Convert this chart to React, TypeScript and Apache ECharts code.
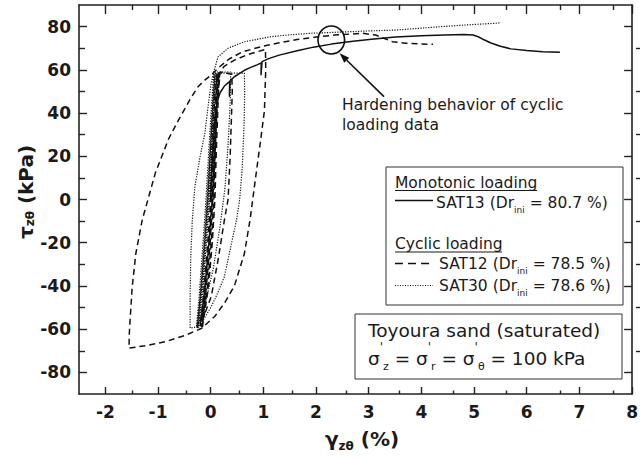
import React, { useEffect, useRef } from "react";
import * as echarts from "echarts";

// Axis ticks
const xMajorTicks = [-2, -1, 0, 1, 2, 3, 4, 5, 6, 7, 8];
const xMinorTicks = [-1.5, -0.5, 0.5, 1.5, 2.5, 3.5, 4.5, 5.5, 6.5, 7.5];
const yMajorTicks = [-80, -60, -40, -20, 0, 20, 40, 60, 80];
const yMinorTicks = [-70, -50, -30, -10, 10, 30, 50, 70];

// SAT13 – monotonic loading (gamma %, tau kPa)
const sat13: [number, number][] = [
  [0, 0], [0.02, 12], [0.05, 26], [0.08, 37], [0.12, 45], [0.18, 49.5], [0.26, 52.5],
  [0.34, 54.2], [0.36, 54.5], [0.355, 47.5], [0.37, 55], [0.45, 56.8], [0.55, 58.4],
  [0.64, 59.8], [0.75, 61], [0.88, 62.3], [0.96, 63.2], [0.955, 57.5], [0.975, 63.8],
  [1.1, 65.2], [1.3, 66.8], [1.64, 68.8], [1.95, 70.5], [2.29, 71.9], [2.7, 73.2],
  [3.1, 74.3], [3.51, 75.2], [4.0, 75.8], [4.44, 76.1], [4.8, 76.3], [4.98, 76.1],
  [5.08, 75.3], [5.19, 73.9], [5.32, 72.4], [5.5, 70.9], [5.7, 69.7], [6.0, 68.9],
  [6.3, 68.4], [6.63, 68.1],
];

// SAT12 – cyclic loading
const sat12: [number, number][] = [
  [0, 0], [0.03, 25], [0.07, 45], [0.12, 58],
  [0.1, 45], [0.07, 25], [0.04, 0], [-0.01, -20], [-0.08, -40], [-0.2, -58],
  [-0.14, -45], [-0.07, -25], [0.0, 0], [0.05, 25], [0.09, 45], [0.14, 58.5],
  [0.12, 45], [0.09, 25], [0.06, 0], [0.01, -20], [-0.06, -40], [-0.18, -59],
  [-0.12, -45], [-0.05, -25], [0.02, 0], [0.07, 25], [0.11, 45], [0.16, 59],
  [0.14, 45], [0.11, 25], [0.08, 0], [0.03, -20], [-0.04, -40], [-0.16, -59.5],
  [-0.1, -45], [-0.03, -25], [0.04, 0], [0.09, 25], [0.13, 45], [0.18, 59],
  [0.28, 58.5], [0.4, 58],
  [0.41, 50], [0.39, 35], [0.37, 20], [0.33, 0], [0.26, -9.5], [0.14, -28], [0.01, -45], [-0.2, -58.5],
  [-0.13, -45], [-0.05, -25], [0.03, 0], [0.08, 25], [0.12, 45], [0.17, 58],
  [0.25, 61.5], [0.45, 64.5], [0.7, 67], [0.9, 68.5], [1.04, 69.5],
  [1.045, 60], [1.02, 41], [0.94, 26], [0.83, 6], [0.75, -9], [0.64, -25], [0.45, -40],
  [0.26, -48], [0.08, -54], [-0.17, -59.6], [-0.5, -63], [-0.86, -65.8], [-1.2, -67.5], [-1.55, -68.8],
  [-1.545, -62], [-1.53, -55.8], [-1.49, -40.5], [-1.42, -24.8], [-1.3, -9.5], [-1.05, 12.3],
  [-0.8, 28], [-0.61, 36.8], [-0.4, 46], [-0.24, 52.2], [-0.1, 55.5], [0.01, 57.6],
  [0.15, 61], [0.35, 65], [0.6, 68.3], [1.0, 71], [1.3, 72.5], [1.64, 74], [2.0, 75.2],
  [2.4, 76.2], [2.89, 76.9], [3.13, 76.1], [3.3, 74.5], [3.45, 73], [3.7, 72.3], [4.0, 72], [4.22, 71.8],
];

// SAT30 – cyclic loading
const sat30: [number, number][] = [
  [0, 0], [0.02, 25], [0.05, 45], [0.08, 58],
  [0.06, 45], [0.02, 25], [-0.03, 0], [-0.09, -20], [-0.15, -40], [-0.27, -59],
  [-0.22, -45], [-0.16, -25], [-0.09, 0], [-0.03, 25], [0.02, 45], [0.06, 59],
  [0.04, 45], [0.0, 25], [-0.05, 0], [-0.11, -20], [-0.17, -40], [-0.25, -59.5],
  [-0.2, -45], [-0.14, -25], [-0.07, 0], [-0.01, 25], [0.04, 45], [0.09, 59],
  [0.07, 45], [0.03, 25], [-0.02, 0], [-0.08, -20], [-0.14, -40], [-0.23, -59.5],
  [-0.18, -45], [-0.12, -25], [-0.05, 0], [0.01, 25], [0.06, 45], [0.12, 59],
  [0.25, 59], [0.38, 59],
  [0.37, 45], [0.33, 25], [0.27, 5], [0.18, -12], [0.05, -32], [-0.1, -48], [-0.26, -59.5],
  [-0.2, -45], [-0.13, -25], [-0.06, 0], [0.0, 25], [0.05, 45], [0.12, 58.5],
  [0.3, 58.5], [0.5, 58.5], [0.64, 58.5],
  [0.645, 50], [0.635, 35], [0.6, 15], [0.55, 0], [0.49, -9.5], [0.38, -22], [0.26, -35.7],
  [0.12, -44], [0.01, -49.6], [-0.12, -55], [-0.24, -58.9], [-0.39, -59.5],
  [-0.39, -45], [-0.38, -28], [-0.35, -10], [-0.3, 6], [-0.2, 20], [-0.11, 30.7], [-0.04, 45],
  [0.01, 54], [0.05, 58],
  [0.08, 61], [0.14, 66], [0.33, 70], [0.64, 73], [1.13, 75.3], [1.5, 76.2], [1.88, 76.9],
  [2.5, 77.5], [3.0, 78], [3.51, 78.4], [4.0, 79.3], [4.5, 80.2], [5.0, 81], [5.38, 81.5], [5.51, 81.8],
];

// Annotation anchor points (data space)
const hardeningCenter: [number, number] = [2.29, 73.8];
const arrowTip: [number, number] = [2.447, 67.65];
const arrowTail: [number, number] = [3.29, 47.6];

const INK = "#1a1a1a";
const FRAME = "#222";
const SANS = "DejaVu Sans";

function tickAxis(
  kind: "x" | "y",
  gridIndex: number,
  position: string,
  values: number[],
  len: number,
  withLine: boolean,
  withLabels: boolean
) {
  const range = kind === "x" ? { min: -2.5, max: 8 } : { min: -90, max: 90 };
  return {
    type: "value",
    gridIndex,
    position,
    ...range,
    splitLine: { show: false },
    axisLine: { show: withLine, onZero: false, lineStyle: { color: FRAME, width: 1.6 } },
    axisTick: {
      show: true,
      inside: true,
      length: len,
      customValues: values,
      lineStyle: { color: FRAME, width: 1.4 },
    },
    axisLabel: withLabels
      ? {
          show: true,
          customValues: values,
          margin: kind === "x" ? 9 : 8,
          fontFamily: SANS,
          fontWeight: "bold",
          fontSize: 17,
          color: INK,
        }
      : { show: false },
  };
}

const lineSeries = (name: string, data: [number, number][], type: any, width: number) => ({
  type: "line",
  name,
  data,
  xAxisIndex: 0,
  yAxisIndex: 0,
  showSymbol: false,
  symbol: "none",
  lineStyle: { color: "#111", width, type },
  z: 3,
});

export default function App() {
  const ref = useRef<HTMLDivElement>(null);

  useEffect(() => {
    const el = ref.current!;
    const chart = echarts.init(el, null, { renderer: "svg" });

    const grid = { left: 79, right: 1, top: 5, bottom: 64, containLabel: false };

    chart.setOption({
      animation: false,
      backgroundColor: "#fff",
      grid: [grid, { ...grid }],
      xAxis: [
        tickAxis("x", 0, "bottom", xMajorTicks, 7, true, true),
        tickAxis("x", 0, "top", xMajorTicks, 9, true, false),
        tickAxis("x", 1, "bottom", xMinorTicks, 3.5, false, false),
        tickAxis("x", 1, "top", xMinorTicks, 5, false, false),
      ],
      yAxis: [
        tickAxis("y", 0, "left", yMajorTicks, 8, true, true),
        tickAxis("y", 0, "right", yMajorTicks, 8, true, false),
        tickAxis("y", 1, "left", yMinorTicks, 6, false, false),
        tickAxis("y", 1, "right", yMinorTicks, 4, false, false),
      ],
      series: [
        lineSeries("SAT13", sat13, "solid", 1.5),
        lineSeries("SAT12", sat12, [6, 4], 1.5),
        lineSeries("SAT30", sat30, [1.2, 1.4], 1.2),
      ],
    });

    const px = (p: [number, number]) =>
      chart.convertToPixel({ seriesIndex: 0 }, p) as number[];

    const c = px(hardeningCenter);
    const tip = px(arrowTip);
    const tail = px(arrowTail);
    const dx = tip[0] - tail[0];
    const dy = tip[1] - tail[1];
    const L = Math.hypot(dx, dy);
    const ux = dx / L;
    const uy = dy / L;
    const headLen = 10;
    const headHalf = 3.6;
    const bx = tip[0] - ux * headLen;
    const by = tip[1] - uy * headLen;

    const m = (size: number, pad = 0, bold = false) => ({
      fontFamily: SANS,
      fontSize: size,
      fontWeight: bold ? "bold" : "normal",
      fill: INK,
      verticalAlign: "top",
      padding: [pad, 0, 0, 0],
    });

    const legendRich = { m: m(15.5), s: m(9, 10.25) };
    const sigmaRich = { m: m(18.5, 8), p: m(12, 0), s: m(11, 20.25) };

    const graphic: any[] = [
      // legend box
      {
        type: "rect",
        shape: { x: 386, y: 167, width: 237, height: 138 },
        style: { fill: "#fff", stroke: "#333", lineWidth: 1 },
        z: 10,
      },
      {
        type: "text", x: 395, y: 182.5, z: 11,
        style: { text: "Monotonic loading", fontFamily: SANS, fontSize: 15.5, fill: INK, verticalAlign: "middle" },
      },
      { type: "line", z: 11, shape: { x1: 395, y1: 190.5, x2: 537, y2: 190.5 }, style: { stroke: INK, lineWidth: 1.2 } },
      { type: "line", z: 11, shape: { x1: 395, y1: 200.5, x2: 433, y2: 200.5 }, style: { stroke: "#111", lineWidth: 1.5 } },
      {
        type: "text", x: 436, y: 202.5 - 7.75, z: 11,
        style: { text: "{m|SAT13 (Dr}{s|ini}{m| = 80.7 %)}", rich: legendRich, verticalAlign: "top" },
      },
      {
        type: "text", x: 395, y: 244, z: 11,
        style: { text: "Cyclic loading", fontFamily: SANS, fontSize: 15.5, fill: INK, verticalAlign: "middle" },
      },
      { type: "line", z: 11, shape: { x1: 395, y1: 252, x2: 502, y2: 252 }, style: { stroke: INK, lineWidth: 1.2 } },
      {
        type: "line", z: 11, shape: { x1: 395, y1: 263.5, x2: 433, y2: 263.5 },
        style: { stroke: "#111", lineWidth: 1.4, lineDash: [8, 5] },
      },
      {
        type: "text", x: 439, y: 264 - 7.75, z: 11,
        style: { text: "{m|SAT12 (Dr}{s|ini}{m| = 78.5 %)}", rich: legendRich, verticalAlign: "top" },
      },
      {
        type: "line", z: 11, shape: { x1: 395, y1: 285.5, x2: 433, y2: 285.5 },
        style: { stroke: "#111", lineWidth: 1, lineDash: [1, 1.5] },
      },
      {
        type: "text", x: 439, y: 286 - 7.75, z: 11,
        style: { text: "{m|SAT30 (Dr}{s|ini}{m| = 78.6 %)}", rich: legendRich, verticalAlign: "top" },
      },
      // test conditions box
      {
        type: "rect",
        shape: { x: 355, y: 314, width: 267, height: 65 },
        style: { fill: "#fff", stroke: "#333", lineWidth: 1 },
        z: 10,
      },
      {
        type: "text", x: 368, y: 330, z: 11,
        style: { text: "Toyoura sand (saturated)", fontFamily: SANS, fontSize: 18.5, fill: INK, verticalAlign: "middle" },
      },
      {
        type: "text", x: 368, y: 358 - 17.25, z: 11,
        style: {
          text: "{m|σ}{p|'}{s|z}{m| = σ}{p|'}{s|r}{m| = σ}{p|'}{s|θ}{m| = 100 kPa}",
          rich: sigmaRich,
          verticalAlign: "top",
        },
      },
      // hardening annotation
      {
        type: "text", x: 342, y: 105, z: 11,
        style: { text: "Hardening behavior of cyclic", fontFamily: SANS, fontSize: 15.5, fill: INK, verticalAlign: "middle" },
      },
      {
        type: "text", x: 342, y: 124.5, z: 11,
        style: { text: "loading data", fontFamily: SANS, fontSize: 15.5, fill: INK, verticalAlign: "middle" },
      },
      {
        type: "ellipse", z: 11,
        shape: { cx: c[0], cy: c[1], rx: 13.3, ry: 14 },
        style: { fill: "none", stroke: "#111", lineWidth: 1.6 },
      },
      {
        type: "line", z: 11,
        shape: { x1: tail[0], y1: tail[1], x2: bx, y2: by },
        style: { stroke: "#111", lineWidth: 1.6 },
      },
      {
        type: "polygon", z: 11,
        shape: {
          points: [
            [tip[0], tip[1]],
            [bx - uy * headHalf, by + ux * headHalf],
            [bx + uy * headHalf, by - ux * headHalf],
          ],
        },
        style: { fill: "#111" },
      },
      // axis titles
      {
        type: "text", x: 362, y: 429, z: 11,
        style: {
          text: "{m|γ}{s|zθ}{m| (%)}",
          rich: { m: m(20, 0, true), s: m(12, 10.5, true) },
          align: "center",
          verticalAlign: "top",
        },
      },
      {
        type: "text", x: 16, y: 192, rotation: Math.PI / 2, z: 11,
        style: {
          text: "{m|τ}{s|zθ}{m| (kPa)}",
          rich: { m: m(20, 0, true), s: m(12, 8, true) },
          align: "center",
          verticalAlign: "top",
        },
      },
    ];

    chart.setOption({ graphic });

    return () => chart.dispose();
  }, []);

  return (
    <div
      ref={ref}
      style={{ position: "fixed", left: 0, top: 0, width: 641, height: 458, background: "#fff" }}
    />
  );
}
